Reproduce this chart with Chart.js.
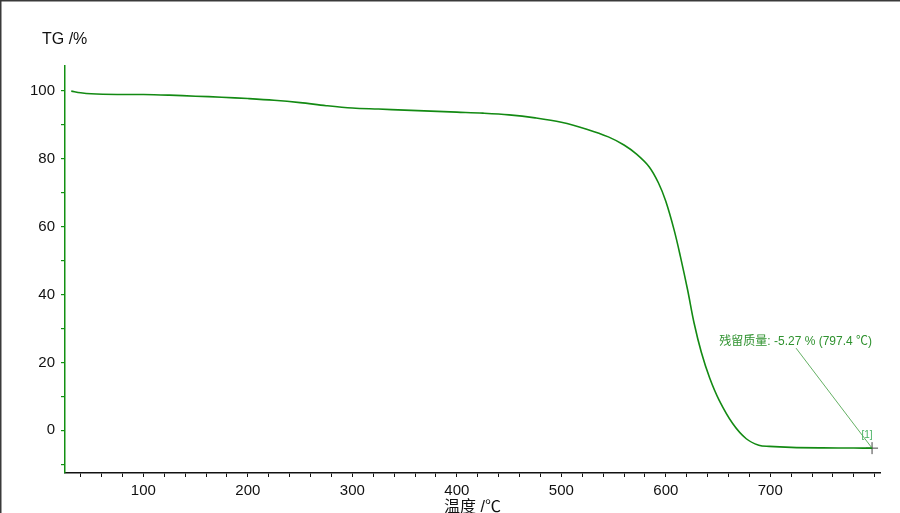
<!DOCTYPE html>
<html>
<head>
<meta charset="utf-8">
<script src="https://cdn.jsdelivr.net/npm/chart.js@4"></script>
<style>
  html, body { margin: 0; padding: 0; background: #fff; }
  canvas { display: block; }
</style>
</head>
<body>
<canvas id="canvas" width="900" height="513"></canvas>
<script>
// TG curve
var temps = [31, 40, 50, 75, 100, 125, 150, 175, 200, 225, 250, 275, 300, 325, 350, 375, 400, 425, 450, 475,
  500, 525, 545, 560, 572, 584, 593, 600, 608, 614, 621, 627, 634, 642, 651, 664, 677, 689, 699, 720, 750, 780, 797.4];
var mass = [100.0, 99.5, 99.2, 99.0, 99.0, 98.8, 98.5, 98.2, 97.8, 97.3, 96.6, 95.7, 95.0, 94.7, 94.4, 94.1, 93.8, 93.5, 93.0, 92.1,
  90.8, 88.7, 86.5, 84.1, 81.4, 77.7, 72.9, 67.5, 59.0, 51.2, 41.2, 31.7, 23.0, 15.4, 8.9, 2.0, -2.5, -4.4, -4.75, -5.05, -5.2, -5.25, -5.27];

// residual mass marker
var residualT = 797.4;
var residualMass = -5.27;
var residualText = "残留质量: -5.27 % (797.4 ℃)";

var xTicks = [];
for (var t = 40; t <= 800; t += 20) xTicks.push(t);
var xLabels = [100, 200, 300, 400, 500, 600, 700];
var yTicks = [-10, 0, 10, 20, 30, 40, 50, 60, 70, 80, 90, 100];
var yLabels = [0, 20, 40, 60, 80, 100];

var fontFamily = "'Liberation Sans', Arial, 'Noto Sans CJK SC', sans-serif";

var points = temps.map(function(t, i) { return { x: t, y: mass[i] }; });

var extras = {
  id: "extras",
  afterDraw: function(chart) {
    var ctx = chart.ctx;
    var xs = chart.scales.x, ys = chart.scales.y;
    ctx.save();
    // frame on the top and left edges
    ctx.fillStyle = "#3a3a3a";
    ctx.fillRect(0, 0, 900, 1.5);
    ctx.fillRect(0, 0, 1.5, 513);

    // axis titles
    ctx.fillStyle = "#111";
    ctx.font = "16px " + fontFamily;
    ctx.textBaseline = "alphabetic";
    ctx.textAlign = "left";
    ctx.fillText("TG /%", 42, 44);
    ctx.textAlign = "center";
    ctx.fillText("温度 /℃", (chart.chartArea.left + chart.chartArea.right) / 2, 512);

    // residual annotation
    var px = xs.getPixelForValue(residualT);
    var py = ys.getPixelForValue(residualMass);
    ctx.strokeStyle = "#3c9c3c";
    ctx.lineWidth = 0.8;
    ctx.beginPath();
    ctx.moveTo(px - 76, py - 100);
    ctx.lineTo(px, py);
    ctx.stroke();

    ctx.fillStyle = "#2f922f";
    ctx.font = "12px " + fontFamily;
    ctx.textAlign = "right";
    ctx.textBaseline = "middle";
    ctx.fillText(residualText, px, py - 106);

    ctx.fillStyle = "#44b060";
    ctx.font = "10px " + fontFamily;
    ctx.textAlign = "center";
    ctx.fillText("[1]", px - 5, py - 13);
    ctx.restore();
  }
};

var config = {
  type: "line",
  data: {
    datasets: [
      {
        data: points,
        borderColor: "#138a13",
        borderWidth: 1.6,
        pointRadius: 0,
        fill: false,
        tension: 0.35
      },
      {
        data: [{ x: residualT, y: residualMass }],
        showLine: false,
        pointStyle: "cross",
        pointRadius: 6,
        pointBorderColor: "#444",
        pointBorderWidth: 1,
        pointBackgroundColor: "#444"
      }
    ]
  },
  options: {
    responsive: false,
    animation: false,
    devicePixelRatio: 1,
    layout: { padding: { left: 0, right: 20, top: 66, bottom: 0 } },
    plugins: {
      legend: { display: false },
      tooltip: { enabled: false }
    },
    scales: {
      x: {
        type: "linear",
        min: 25,
        max: 805,
        afterFit: function(scale) { scale.height = 40; },
        afterBuildTicks: function(scale) {
          scale.ticks = xTicks.map(function(v) { return { value: v }; });
        },
        border: { color: "#111", width: 1.5 },
        grid: { drawOnChartArea: false, drawTicks: true, tickLength: 4, color: "#111", lineWidth: 1 },
        ticks: {
          color: "#111",
          padding: 5,
          maxRotation: 0,
          autoSkip: false,
          font: { family: fontFamily, size: 15 },
          callback: function(v) { return xLabels.indexOf(v) >= 0 ? String(v) : ""; }
        }
      },
      y: {
        min: -12.6,
        max: 107.4,
        afterFit: function(scale) { scale.width = 65; },
        afterBuildTicks: function(scale) {
          scale.ticks = yTicks.map(function(v) { return { value: v }; });
        },
        border: { color: "#129012", width: 1.5 },
        grid: { drawOnChartArea: false, drawTicks: true, tickLength: 4, color: "#129012", lineWidth: 1.2 },
        ticks: {
          color: "#111",
          padding: 6,
          autoSkip: false,
          font: { family: fontFamily, size: 15 },
          callback: function(v) { return yLabels.indexOf(v) >= 0 ? String(v) : ""; }
        }
      }
    }
  },
  plugins: [extras]
};

window.onload = function() {
  var ctx = document.getElementById("canvas").getContext("2d");
  window.myLine = new Chart(ctx, config);
};
</script>
</body>
</html>
